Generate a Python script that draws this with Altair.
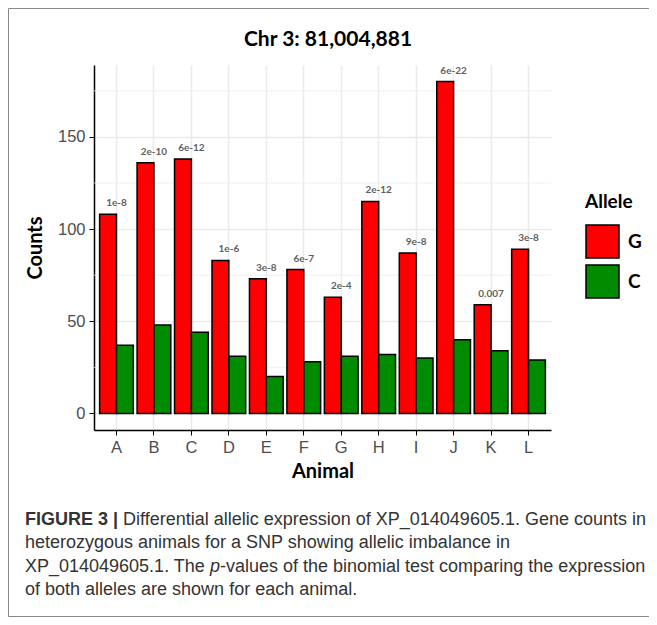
import altair as alt
import pandas as pd

animals = ["A", "B", "C", "D", "E", "F", "G", "H", "I", "J", "K", "L"]
g_counts = [108, 136, 138, 83, 73, 78, 63, 115, 87, 180, 59, 89]
c_counts = [37, 48, 44, 31, 20, 28, 31, 32, 30, 40, 34, 29]
pvals = ["1e-8", "2e-10", "6e-12", "1e-6", "3e-8", "6e-7", "2e-4", "2e-12", "9e-8", "6e-22", "0.007", "3e-8"]
alleles = ["G", "C"]
allele_colors = ["#ff0000", "#008b00"]
y_major = [0, 50, 100, 150]
y_minor = [25, 75, 125, 175]
title_text = "Chr 3: 81,004,881"

rows = []
for a, g, c in zip(animals, g_counts, c_counts):
    rows.append({"Animal": a, "Allele": "G", "Count": g})
    rows.append({"Animal": a, "Allele": "C", "Count": c})
df = pd.DataFrame(rows)
lab = pd.DataFrame({"Animal": animals, "Count": g_counts, "p": pvals})
minor = pd.DataFrame({"v": y_minor})
one = pd.DataFrame({"k": [0]})

xscale = alt.Scale(domain=animals, paddingInner=0.1, paddingOuter=0.15)
yscale = alt.Scale(domain=[-9, 189], nice=False, zero=False)

grid_minor = alt.Chart(minor).mark_rule(color="#ebebeb", strokeWidth=0.8).encode(
    y=alt.Y("v:Q", scale=yscale)
)

bars = alt.Chart(df).mark_bar(stroke="black", strokeWidth=1.5).encode(
    x=alt.X("Animal:N", scale=xscale, sort=animals,
            axis=alt.Axis(title="Animal", labelAngle=0, bandPosition=0.5)),
    xOffset=alt.XOffset("Allele:N", scale=alt.Scale(domain=alleles, paddingInner=0, paddingOuter=0)),
    y=alt.Y("Count:Q", scale=yscale, axis=alt.Axis(title="Counts", values=y_major)),
    y2=alt.datum(0),
    color=alt.Color("Allele:N", scale=alt.Scale(domain=alleles, range=allele_colors),
                    legend=alt.Legend(title="Allele", orient="none", legendX=491, legendY=128,
                                      symbolType="square", symbolSize=1089,
                                      symbolStrokeColor="black", symbolStrokeWidth=1.5,
                                      labelFont="Lato", labelFontWeight="bold", labelFontSize=19,
                                      labelColor="black", labelOffset=8, rowPadding=1,
                                      titleFont="Lato", titleFontWeight="bold", titleFontSize=19,
                                      titleColor="black", titlePadding=12)),
)

labels = alt.Chart(lab).mark_text(font="Lato", fontWeight="bold", fontSize=10, color="#5f5f5f",
                                  baseline="middle", dy=-11).encode(
    x=alt.X("Animal:N", scale=xscale, sort=animals),
    y=alt.Y("Count:Q", scale=yscale),
    text="p:N",
)

frame = alt.Chart(one).mark_rect(fill="transparent", stroke="#888888", strokeWidth=1).encode(
    x=alt.value(-85.5), x2=alt.value(557.5), y=alt.value(-56.5), y2=alt.value(551.5)
)

title = alt.Chart(one).mark_text(font="Lato", fontWeight="bold", fontSize=21, color="black",
                                 align="center", baseline="middle").encode(
    x=alt.value(234), y=alt.value(-25), text=alt.value(title_text)
)

cap_style = dict(font="Liberation Sans", fontSize=18, color="#333333", align="left", baseline="middle")
cap = [
    ("FIGURE 3 |", -69, 455, "bold", "normal"),
    ("Differential allelic expression of XP_014049605.1. Gene counts in", 29, 455, "normal", "normal"),
    ("heterozygous animals for a SNP showing allelic imbalance in", -69, 478, "normal", "normal"),
    ("XP_014049605.1. The", -69, 502, "normal", "normal"),
    ("p", 116, 502, "normal", "italic"),
    ("-values of the binomial test comparing the expression", 126, 502, "normal", "normal"),
    ("of both alleles are shown for each animal.", -69, 525, "normal", "normal"),
]
cap_layers = []
for t, xx, yy, w, st in cap:
    cap_layers.append(
        alt.Chart(one).mark_text(fontWeight=w, fontStyle=st, **cap_style).encode(
            x=alt.value(xx), y=alt.value(yy), text=alt.value(t)
        )
    )

chart = alt.layer(grid_minor, bars, labels, frame, title, *cap_layers).properties(
    width=457, height=365,
    autosize=alt.AutoSizeParams(type="none"),
    padding={"left": 86, "top": 57, "right": 98, "bottom": 187},
).configure_view(stroke=None).configure_axis(
    domainColor="black", domainWidth=1.5, tickColor="black", tickSize=5, tickWidth=1,
    labelFont="Liberation Sans", labelFontSize=16.5, labelColor="#4d4d4d",
    titleFont="Lato", titleFontWeight="bold", titleFontSize=20, titleColor="black",
    grid=True, gridColor="#ebebeb", gridWidth=1.5, labelPadding=4,
).configure_axisY(titlePadding=12).configure_axisX(titlePadding=6)

chart.save("out.html", embed_options={"renderer": "svg", "actions": False})
